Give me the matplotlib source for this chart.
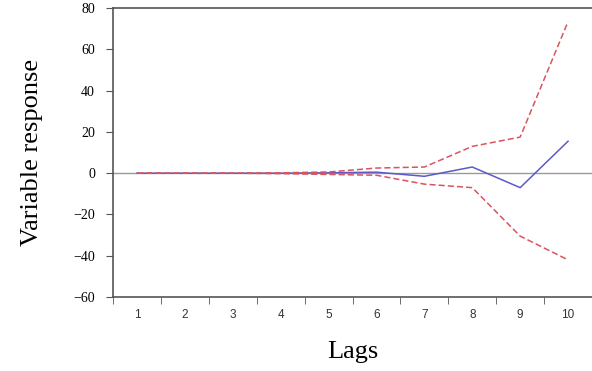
import matplotlib
matplotlib.use('Agg')
import matplotlib.pyplot as plt
import numpy as np

lags = [1, 2, 3, 4, 5, 6, 7, 8, 9, 10]
response = [0, 0, 0, 0, 0.2, 0.5, -1.5, 3, -7, 15.5]
upper = [0, 0, 0, 0.2, 0.6, 2.5, 3, 13, 17.5, 73.5]
lower = [0, 0, 0, -0.2, -0.6, -1, -5.3, -7, -30.5, -42]
yticks = [-60, -40, -20, 0, 20, 40, 60, 80]

fig = plt.figure(figsize=(5.92, 3.71), dpi=100)
ax = fig.add_axes([0.191, 0.1995, 0.809, 0.7785])

ax.axhline(0, color='#9a9a9a', lw=1.0, zorder=1)
ax.plot(lags, upper, color='#d9545e', lw=1.1, ls=(0, (4, 2)), zorder=3)
ax.plot(lags, lower, color='#d9545e', lw=1.1, ls=(0, (4, 2)), zorder=3)
ax.plot(lags, response, color='#5a5ac8', lw=1.1, zorder=2)

ax.set_xlim(0.5, 10.48)
ax.set_ylim(-60, 80)

ax.set_yticks(yticks)
ax.set_yticklabels([f'\u2212{abs(v)}' if v < 0 else str(v) for v in yticks],
                   family='Liberation Serif', fontsize=10)
ax.set_xticks(lags)
ax.set_xticklabels([str(l) for l in lags], family='Liberation Sans', fontsize=8.5, color='#333333')
ax.set_xticks(np.arange(0.5, 10.6, 1), minor=True)
ax.tick_params(axis='x', which='major', length=0, pad=9)
ax.tick_params(axis='x', which='minor', length=5, color='#555555', direction='out')
ax.tick_params(axis='y', length=5, color='#555555', direction='out', pad=8)

for s in ['left', 'bottom', 'top']:
    ax.spines[s].set_color('#555555')
    ax.spines[s].set_linewidth(1.2)
ax.spines['right'].set_visible(False)

ax.set_ylabel('Variable response', family='Liberation Serif', fontsize=19, labelpad=22)
ax.set_xlabel('Lags', family='Liberation Serif', fontsize=19, labelpad=14)

fig.savefig('out.png', dpi=100)
